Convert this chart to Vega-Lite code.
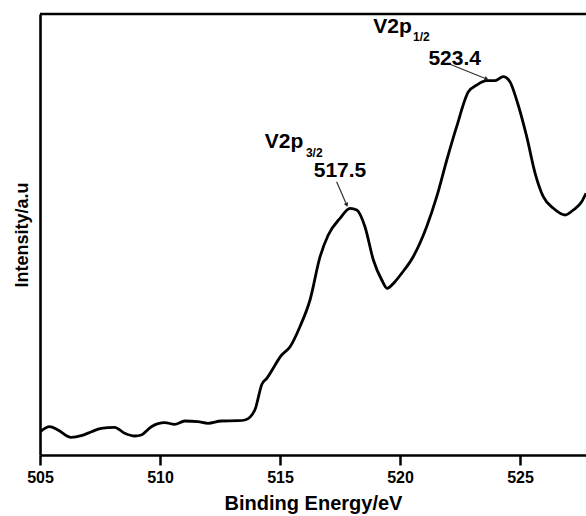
{
  "$schema": "https://vega.github.io/schema/vega-lite/v6.json",
  "autosize": "none",
  "padding": {"left": 40, "top": 14, "right": 0, "bottom": 61},
  "width": 546,
  "height": 441,
  "background": "white",
  "config": {
    "view": {"stroke": null},
    "font": "Liberation Sans"
  },
  "datasets": {
    "spectrum": [
      {"energy": 505.00, "intensity": 23},
      {"energy": 505.40, "intensity": 28.3},
      {"energy": 505.75, "intensity": 25},
      {"energy": 506.30, "intensity": 17.7},
      {"energy": 506.72, "intensity": 19.3},
      {"energy": 507.14, "intensity": 23.3},
      {"energy": 507.55, "intensity": 26.7},
      {"energy": 508.11, "intensity": 27.7},
      {"energy": 508.53, "intensity": 21.7},
      {"energy": 508.95, "intensity": 19},
      {"energy": 509.22, "intensity": 20},
      {"energy": 509.64, "intensity": 28.3},
      {"energy": 510.20, "intensity": 32.3},
      {"energy": 510.61, "intensity": 30.7},
      {"energy": 511.03, "intensity": 34},
      {"energy": 511.58, "intensity": 33.3},
      {"energy": 512.00, "intensity": 31.7},
      {"energy": 512.55, "intensity": 34},
      {"energy": 513.25, "intensity": 34.3},
      {"energy": 513.54, "intensity": 35},
      {"energy": 513.95, "intensity": 45},
      {"energy": 514.25, "intensity": 71},
      {"energy": 514.45, "intensity": 76.7},
      {"energy": 515.07, "intensity": 100},
      {"energy": 515.42, "intensity": 108.3},
      {"energy": 515.83, "intensity": 128.3},
      {"energy": 516.25, "intensity": 155},
      {"energy": 516.67, "intensity": 198.3},
      {"energy": 517.01, "intensity": 220},
      {"energy": 517.50, "intensity": 236.7},
      {"energy": 517.92, "intensity": 246.7},
      {"energy": 518.20, "intensity": 245},
      {"energy": 518.54, "intensity": 228.3},
      {"energy": 518.89, "intensity": 195},
      {"energy": 519.24, "intensity": 175},
      {"energy": 519.46, "intensity": 166.7},
      {"energy": 519.79, "intensity": 173.3},
      {"energy": 520.07, "intensity": 181.7},
      {"energy": 520.55, "intensity": 198.3},
      {"energy": 521.11, "intensity": 228.3},
      {"energy": 521.53, "intensity": 258.3},
      {"energy": 521.95, "intensity": 295},
      {"energy": 522.36, "intensity": 328.3},
      {"energy": 522.85, "intensity": 363.3},
      {"energy": 523.20, "intensity": 370},
      {"energy": 523.61, "intensity": 374.3},
      {"energy": 523.96, "intensity": 374.3},
      {"energy": 524.30, "intensity": 378.3},
      {"energy": 524.58, "intensity": 373.3},
      {"energy": 524.86, "intensity": 355},
      {"energy": 525.28, "intensity": 318.3},
      {"energy": 525.63, "intensity": 281.7},
      {"energy": 525.97, "intensity": 258.3},
      {"energy": 526.39, "intensity": 246.7},
      {"energy": 526.88, "intensity": 240},
      {"energy": 527.22, "intensity": 245},
      {"energy": 527.57, "intensity": 253.3},
      {"energy": 527.75, "intensity": 261.7}
    ],
    "labels": [
      {"text": "V2p", "energy": 515.17, "intensity": 306.7},
      {"text": "517.5", "energy": 517.5, "intensity": 278},
      {"text": "V2p", "energy": 519.69, "intensity": 421.7},
      {"text": "523.4", "energy": 522.28, "intensity": 390}
    ],
    "subs": [
      {"text": "3/2", "energy": 516.08, "intensity": 298.3},
      {"text": "1/2", "energy": 520.54, "intensity": 414}
    ],
    "arrows": [
      {"energy": 517.36, "intensity": 273.3, "energy2": 517.78, "intensity2": 250},
      {"energy": 522.08, "intensity": 390.7, "energy2": 523.61, "intensity2": 376}
    ],
    "heads": [
      {"energy": 517.78, "intensity": 250, "angle": 337},
      {"energy": 523.61, "intensity": 376, "angle": 292}
    ],
    "frame": [
      {"energy": 505, "intensity": 441, "energy2": 527.75, "intensity2": 441}
    ],
    "minor": [
      {"energy": 507.5},
      {"energy": 512.5},
      {"energy": 517.5},
      {"energy": 522.5},
      {"energy": 527.5}
    ],
    "major": [
      {"energy": 505},
      {"energy": 510},
      {"energy": 515},
      {"energy": 520},
      {"energy": 525}
    ]
  },
  "encoding": {
    "x": {
      "field": "energy", "type": "quantitative",
      "scale": {"domain": [505, 527.75], "nice": false, "zero": false},
      "axis": {
        "orient": "bottom",
        "title": "Binding Energy/eV",
        "titleFont": "Liberation Sans", "titleFontWeight": "bold", "titleFontSize": 20, "titleColor": "black",
        "titlePadding": 8,
        "values": [505, 510, 515, 520, 525],
        "format": "d",
        "labelFont": "Liberation Sans", "labelFontWeight": "bold", "labelFontSize": 16, "labelColor": "black",
        "labelPadding": 4, "labelFlush": false, "labelOverlap": false,
        "domainColor": "black", "domainWidth": 2.6,
        "ticks": true,
        "tickColor": "black", "tickWidth": 2.5, "tickSize": 10, "tickOpacity": 1,
        "grid": false
      }
    },
    "y": {
      "field": "intensity", "type": "quantitative",
      "scale": {"domain": [0, 441], "nice": false, "zero": false},
      "axis": {
        "orient": "left",
        "title": "Intensity/a.u",
        "titleFont": "Liberation Sans", "titleFontWeight": "bold", "titleFontSize": 18, "titleColor": "black",
        "titlePadding": 9,
        "labels": false, "ticks": false, "grid": false,
        "domainColor": "black", "domainWidth": 2.6
      }
    }
  },
  "layer": [
    {
      "data": {"name": "spectrum"},
      "mark": {"type": "line", "color": "black", "strokeWidth": 2.8, "interpolate": "monotone", "clip": true}
    },
    {
      "data": {"name": "frame"},
      "mark": {"type": "rule", "color": "black", "strokeWidth": 2.6},
      "encoding": {
        "x2": {"field": "energy2"},
        "y2": {"field": "intensity2"}
      }
    },
    {
      "data": {"name": "minor"},
      "mark": {"type": "rule", "color": "black", "strokeWidth": 2.5},
      "encoding": {
        "y": {"datum": 0},
        "y2": {"datum": -6}
      }
    },
    {
      "data": {"name": "major"},
      "mark": {"type": "rule", "color": "black", "strokeWidth": 2.5},
      "encoding": {
        "y": {"datum": 0},
        "y2": {"datum": -10}
      }
    },
    {
      "data": {"name": "arrows"},
      "mark": {"type": "rule", "color": "#333333", "strokeWidth": 1.2},
      "encoding": {
        "x2": {"field": "energy2"},
        "y2": {"field": "intensity2"}
      }
    },
    {
      "data": {"name": "heads"},
      "mark": {"type": "point", "shape": "triangle-down", "filled": true, "color": "#222222", "size": 22, "opacity": 1},
      "encoding": {
        "angle": {"field": "angle", "type": "quantitative", "scale": null}
      }
    },
    {
      "data": {"name": "labels"},
      "mark": {"type": "text", "font": "Liberation Sans", "fontWeight": "bold", "fontSize": 21, "color": "black", "baseline": "alphabetic", "align": "center"},
      "encoding": {
        "text": {"field": "text"}
      }
    },
    {
      "data": {"name": "subs"},
      "mark": {"type": "text", "font": "Liberation Sans", "fontWeight": "bold", "fontSize": 12, "color": "black", "baseline": "alphabetic", "align": "left"},
      "encoding": {
        "text": {"field": "text"}
      }
    }
  ]
}
